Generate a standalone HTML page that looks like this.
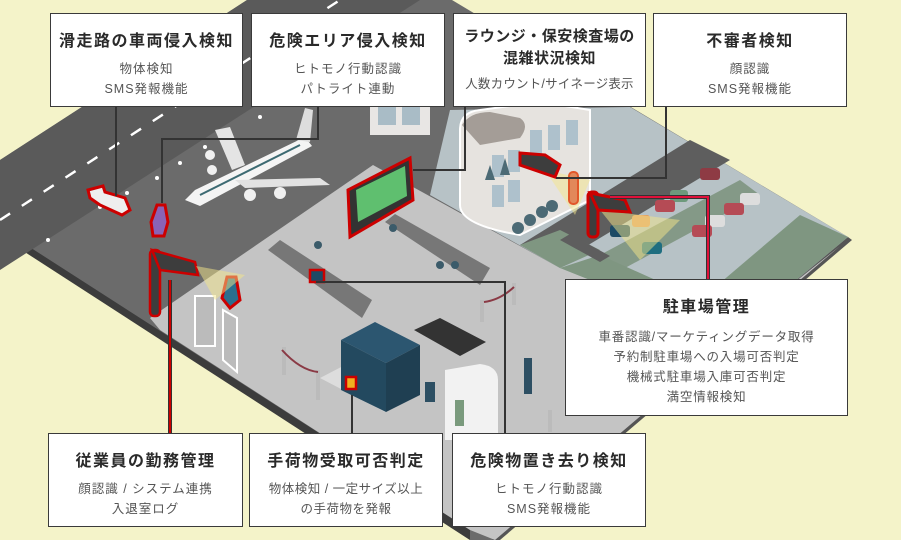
<!DOCTYPE html>
<html><head><meta charset="utf-8">
<style>
html,body{margin:0;padding:0;background:#f4f3c9;}
.w{position:relative;width:901px;height:540px;overflow:hidden;font-family:"Liberation Sans","Noto Sans CJK JP",sans-serif;}
svg{position:absolute;left:0;top:0;}
.b{position:absolute;background:#fff;border:1.5px solid #3a3a3a;box-sizing:border-box;text-align:center;color:#555;}
.t{font-weight:bold;color:#2a2a2a;font-size:16px;letter-spacing:1.5px;white-space:nowrap;}
.s{font-size:12.5px;letter-spacing:1px;line-height:20px;white-space:nowrap;}
</style></head><body><div class="w">
<svg width="901" height="540" viewBox="0 0 901 540">
<polygon points="247,0 452,0 848,237 840,246 495,540 470,540 0,235 0,160" fill="#6b6b6b"/>
<polygon points="0,228 470,530 470,540 0,236" fill="#3c3c3c"/>
<polygon points="848,237 852,240 500,540 492,540" fill="#555"/>
<polygon points="0,160 247,0 420,0 0,270" fill="#5a5a5a"/>
<g stroke="#fff" stroke-width="2.5" stroke-dasharray="12 14"><line x1="0" y1="220" x2="340" y2="0"/></g>
<g fill="#fff"><circle cx="48" cy="240" r="2"/><circle cx="100" cy="207" r="2"/><circle cx="157" cy="178" r="2"/><circle cx="205" cy="147" r="2"/><circle cx="260" cy="117" r="2"/><circle cx="310" cy="85" r="2"/><circle cx="127" cy="193" r="2"/><circle cx="180" cy="163" r="2"/></g>
<polygon points="150,318 373,165 560,268 760,310 840,246 495,540 470,530 160,330" fill="#c4c4c4"/>
<polygon points="450,110 630,107 848,237 760,310 690,320 560,268 430,195" fill="#b7c2c6"/>
<polygon points="520,245 690,140 730,160 560,262" fill="#5e5e5e"/>
<polygon points="600,255 740,180 760,195 625,268" fill="#7e957f" opacity="0.9"/>
<polygon points="848,237 760,310 700,300 800,215" fill="#7f9681"/>
<polygon points="560,268 690,320 700,300 600,255" fill="#7f9681"/>
<polygon points="520,245 560,268 600,250 560,230" fill="#7f9681"/>
<polygon points="560,240 600,262 610,256 570,234" fill="#5e5e5e"/>
<rect x="370" y="95" width="60" height="40" fill="#e8e6e4"/>
<rect x="378" y="100" width="18" height="25" fill="#a9bcc6"/><rect x="402" y="100" width="18" height="25" fill="#a9bcc6"/>
<path d="M460,130 Q460,112 480,110 L540,102 L590,110 L590,200 L520,235 Q460,225 460,205 Z" fill="#e6e3df" stroke="#fff" stroke-width="2"/>
<path d="M462,125 Q470,112 490,112 L520,118 Q530,125 520,138 L480,145 Z" fill="#a49d97"/>
<g fill="#aec1cc"><rect x="492" y="155" width="12" height="22"/><rect x="508" y="150" width="12" height="22"/><rect x="492" y="185" width="12" height="22"/><rect x="508" y="180" width="12" height="22"/><rect x="530" y="130" width="12" height="25"/><rect x="548" y="125" width="12" height="25"/><rect x="566" y="120" width="12" height="25"/></g>
<g fill="#4c6a75"><circle cx="518" cy="228" r="6"/><circle cx="530" cy="220" r="6"/><circle cx="542" cy="212" r="6"/><circle cx="552" cy="206" r="6"/></g>
<g fill="#4c6a75"><polygon points="490,165 485,180 495,180"/><polygon points="505,158 500,175 510,175"/></g>
<g><rect x="700" y="168" width="20" height="12" rx="3" fill="#8e3b44"/><rect x="670" y="190" width="18" height="12" rx="3" fill="#6d9a7c"/><rect x="655" y="200" width="20" height="12" rx="3" fill="#b54b55"/><rect x="740" y="193" width="20" height="12" rx="3" fill="#ddd"/><rect x="724" y="203" width="20" height="12" rx="3" fill="#b54b55"/><rect x="705" y="215" width="20" height="12" rx="3" fill="#ddd"/><rect x="692" y="225" width="20" height="12" rx="3" fill="#b54b55"/><rect x="610" y="225" width="20" height="12" rx="3" fill="#1c4a66"/><rect x="632" y="215" width="18" height="12" rx="3" fill="#e39a5f"/><rect x="642" y="242" width="20" height="12" rx="3" fill="#1f6e80"/></g>
<polygon points="600,210 680,220 640,260" fill="#f4e58a" opacity="0.5"/>
<polygon points="545,170 590,180 575,215" fill="#f4e58a" opacity="0.5"/>
<polygon points="185,200 195,190 305,137 312,146 200,206" fill="#f4f4f4"/>
<polygon points="235,180 320,178 330,185 245,188" fill="#e2e2e2"/>
<polygon points="215,130 230,127 245,165 232,170" fill="#e4e4e4"/>
<polygon points="296,140 305,108 313,110 310,142" fill="#ddd"/>
<line x1="200" y1="195" x2="300" y2="145" stroke="#3c6a72" stroke-width="2"/>
<g fill="#f0f0f0"><circle cx="250" cy="195" r="6"/><circle cx="280" cy="193" r="6"/><circle cx="210" cy="155" r="5"/><circle cx="212" cy="170" r="5"/></g>
<path d="M88,190 L103,186 L105,192 L125,198 L130,210 L122,215 L100,205 L90,198 Z" fill="#eee" stroke="#c00" stroke-width="3"/>
<path d="M157,205 L165,205 L168,222 L164,236 L153,236 L151,222 Z" fill="#8a63b5" stroke="#c00" stroke-width="3"/>
<path d="M227,277 L236,277 L240,300 L230,308 L222,298 Z" fill="#2a6f8f" stroke="#c00" stroke-width="3"/>
<rect x="569" y="172" width="9" height="32" rx="4" fill="#e2885a" stroke="#e2572a" stroke-width="2"/>
<polygon points="348,190 410,158 413,200 350,237" fill="#333" stroke="#c00" stroke-width="3"/>
<polygon points="356,190 405,166 407,196 358,222" fill="#5fbf6f"/>
<g fill="#777"><polygon points="268,250 280,240 372,300 362,318"/><polygon points="385,222 395,214 490,268 480,285"/></g>
<g fill="#3b5b6a"><circle cx="318" cy="245" r="4"/><circle cx="393" cy="228" r="4"/><circle cx="440" cy="265" r="4"/><circle cx="455" cy="265" r="4"/></g>
<rect x="310" y="270" width="14" height="12" fill="#1d4a66" stroke="#c00" stroke-width="2.5"/>
<g fill="#bbb"><rect x="512" y="283" width="4" height="22"/><rect x="480" y="300" width="4" height="22"/><rect x="282" y="347" width="4" height="28"/><rect x="316" y="370" width="4" height="30"/><rect x="548" y="410" width="4" height="22"/></g>
<path d="M282,350 Q300,370 318,372" stroke="#8a3a45" stroke-width="2" fill="none"/>
<path d="M484,302 Q500,300 514,287" stroke="#8a3a45" stroke-width="2" fill="none"/>
<rect x="195" y="296" width="20" height="50" fill="#bbb" stroke="#fff" stroke-width="2"/>
<polygon points="223,310 237,318 237,372 223,360" fill="#bbb" stroke="#fff" stroke-width="2"/>
<rect x="150" y="250" width="10" height="66" rx="4" fill="#3d3d3d" stroke="#c00" stroke-width="2.5"/>
<polygon points="152,250 195,262 198,275 160,270" fill="#3d3d3d" stroke="#c00" stroke-width="2.5"/>
<polygon points="196,266 245,275 215,300" fill="#f4e58a" opacity="0.5"/>
<polygon points="320,378 345,365 410,400 385,412" fill="#ddd"/>
<polygon points="341,340 375,322 420,345 386,363" fill="#2c5670"/>
<polygon points="341,340 386,363 386,412 341,390" fill="#23495f"/>
<polygon points="386,363 420,345 420,395 386,412" fill="#1f3f52"/>
<polygon points="414,330 440,318 486,342 460,356" fill="#333"/>
<path d="M445,370 L445,440 L498,440 L498,380 Q498,366 480,364 Z" fill="#f2f2f2"/>
<rect x="346" y="377" width="10" height="12" fill="#f0b020" stroke="#c00" stroke-width="2.5"/>
<g fill="#2d4f63"><rect x="524" y="358" width="8" height="36"/><rect x="425" y="382" width="10" height="20"/></g>
<rect x="455" y="400" width="9" height="26" fill="#7a9a7d"/>
<polygon points="520,153 545,155 560,165 555,177 520,165" fill="#3d3d3d" stroke="#c00" stroke-width="3"/>
<rect x="588" y="192" width="10" height="45" rx="4" fill="#3d3d3d" stroke="#c00" stroke-width="3"/>
<polygon points="590,193 625,200 630,212 598,210" fill="#3d3d3d" stroke="#c00" stroke-width="3"/>
<g stroke="#333" stroke-width="2" fill="none">
<polyline points="116,106 116,196"/>
<polyline points="318,106 318,139 162,139 162,203"/>
<polyline points="465,106 465,170 413,170"/>
<polyline points="666,106 666,178 556,178"/>
<polyline points="352,433 352,395"/>
<polyline points="505,433 505,282 316,282"/>
</g>
<polyline points="610,197 708,197 708,280" stroke="#333" stroke-width="4" fill="none"/>
<polyline points="610,197 708,197 708,280" stroke="#e0103a" stroke-width="2" fill="none"/>
<line x1="170" y1="280" x2="170" y2="433" stroke="#333" stroke-width="4"/>
<line x1="170" y1="280" x2="170" y2="433" stroke="#c00" stroke-width="2"/>
</svg>
<div class="b" style="left:50px;top:13px;width:193px;height:94px;"><div class="t" style="margin-top:13px">滑走路の車両侵入検知</div><div class="s" style="margin-top:8px">物体検知<br>SMS発報機能</div></div>
<div class="b" style="left:251px;top:13px;width:194px;height:94px;"><div class="t" style="margin-top:13px">危険エリア侵入検知</div><div class="s" style="margin-top:8px">ヒトモノ行動認識<br>パトライト連動</div></div>
<div class="b" style="left:453px;top:13px;width:193px;height:94px;"><div class="t" style="margin-top:12px;line-height:22px;font-size:15px;letter-spacing:0.5px">ラウンジ・保安検査場の<br>混雑状況検知</div><div class="s" style="margin-top:4px;letter-spacing:0.2px">人数カウント/サイネージ表示</div></div>
<div class="b" style="left:653px;top:13px;width:194px;height:94px;"><div class="t" style="margin-top:13px">不審者検知</div><div class="s" style="margin-top:8px">顔認識<br>SMS発報機能</div></div>
<div class="b" style="left:565px;top:279px;width:283px;height:137px;"><div class="t" style="margin-top:13px">駐車場管理</div><div class="s" style="margin-top:10px;line-height:20px;letter-spacing:0.8px">車番認識/マーケティングデータ取得<br>予約制駐車場への入場可否判定<br>機械式駐車場入庫可否判定<br>満空情報検知</div></div>
<div class="b" style="left:48px;top:433px;width:195px;height:94px;"><div class="t" style="margin-top:13px">従業員の勤務管理</div><div class="s" style="margin-top:8px">顔認識 / システム連携<br>入退室ログ</div></div>
<div class="b" style="left:249px;top:433px;width:194px;height:94px;"><div class="t" style="margin-top:13px">手荷物受取可否判定</div><div class="s" style="margin-top:8px;letter-spacing:0.5px">物体検知 / 一定サイズ以上<br>の手荷物を発報</div></div>
<div class="b" style="left:452px;top:433px;width:194px;height:94px;"><div class="t" style="margin-top:13px">危険物置き去り検知</div><div class="s" style="margin-top:8px">ヒトモノ行動認識<br>SMS発報機能</div></div>
</div></body></html>
